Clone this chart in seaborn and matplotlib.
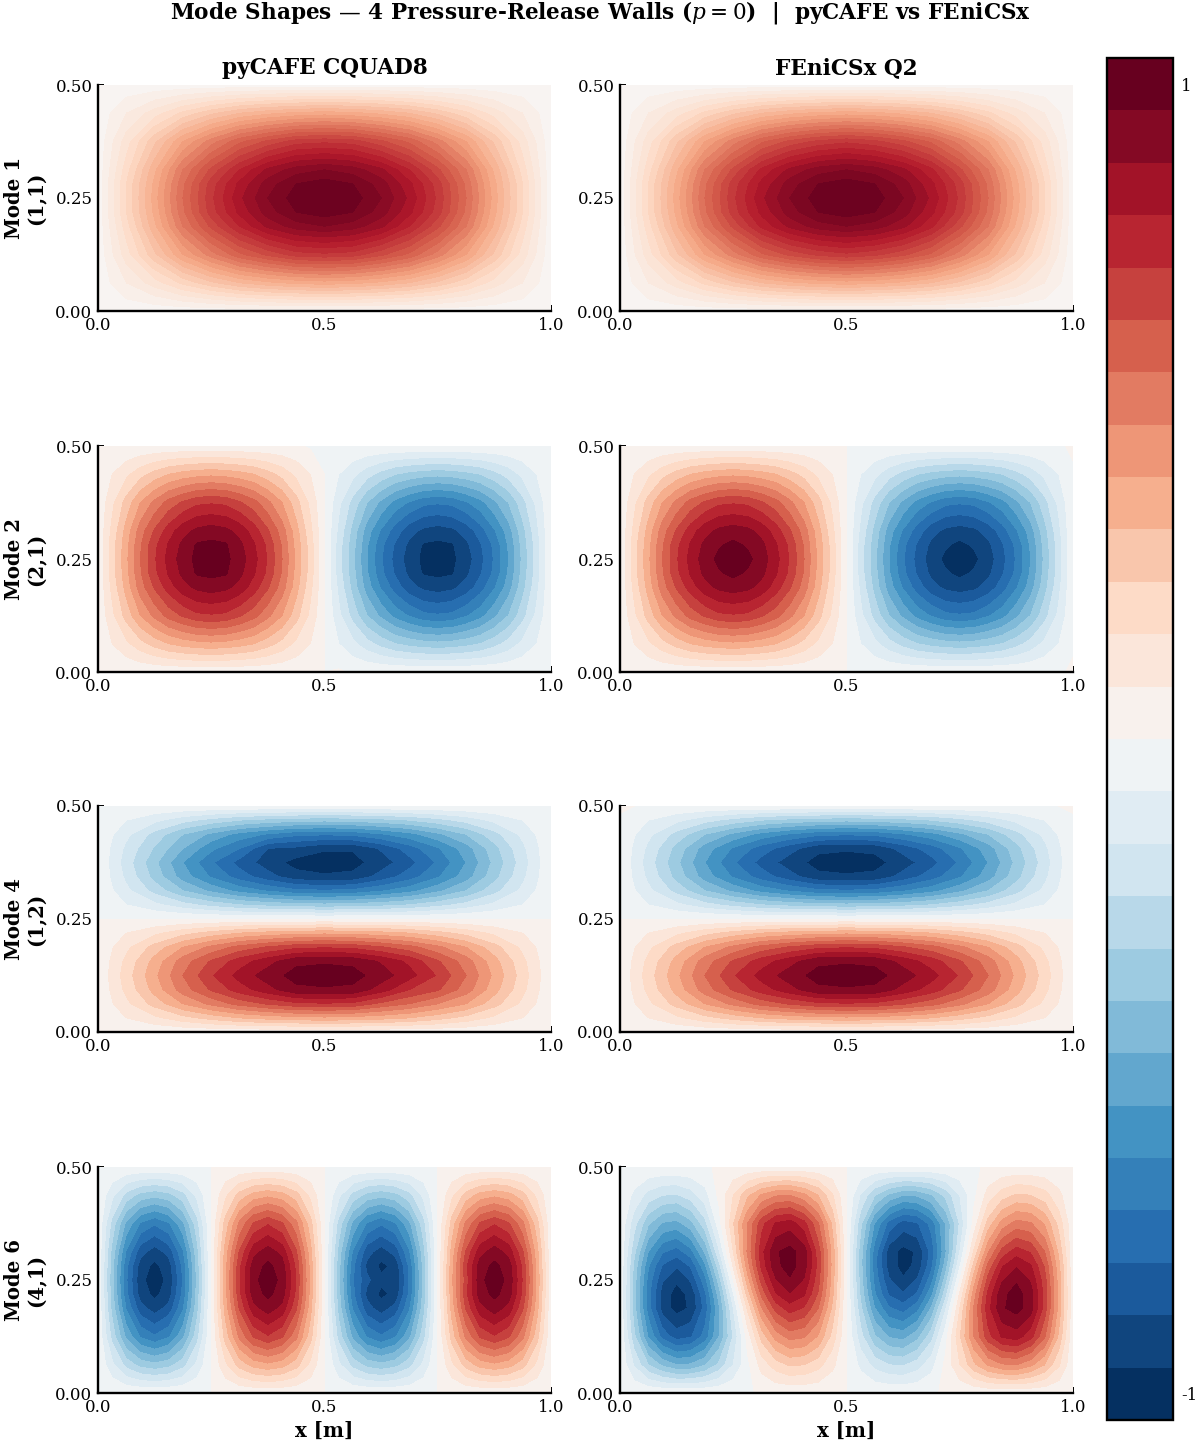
import numpy as np
import matplotlib
matplotlib.use("Agg")
import matplotlib.pyplot as plt
import seaborn as sns

# pressure, in hundredths of the peak; first row is y=0
mode1_pycafe = [
    [1]*17,
    [1,8,14,21,27,32,35,37,38,37,35,32,27,21,14,8,1],
    [1,14,27,40,50,59,65,70,71,70,65,59,50,40,27,14,1],
    [1,18,35,52,65,76,85,90,92,90,85,76,65,52,35,18,1],
    [1,20,37,55,70,81,90,96,98,96,90,81,70,55,37,20,1],
    [1,20,38,56,71,83,92,98,100,98,92,83,71,56,38,20,1],
    [1,20,37,55,70,81,90,96,98,96,90,81,70,55,37,20,1],
    [1,18,35,52,65,76,85,90,92,90,85,76,65,52,35,18,1],
    [1,14,27,40,50,59,65,70,71,70,65,59,50,40,27,14,1],
    [1,8,14,21,27,32,35,37,38,37,35,32,27,21,14,8,1],
    [1]*17,
]
mode1_fenics = [
    [1]*17,
    [1,8,14,21,27,32,35,37,38,37,35,32,27,21,14,8,1],
    [1,14,27,40,50,59,65,69,71,69,65,59,50,40,27,14,1],
    [1,18,35,52,65,77,85,90,92,90,85,77,65,52,35,18,1],
    [1,20,37,55,70,81,90,96,98,96,90,81,70,55,37,20,1],
    [1,20,38,56,71,83,92,98,100,98,92,83,71,56,38,20,1],
    [1,20,37,55,70,81,90,96,98,96,90,81,70,55,37,20,1],
    [1,18,35,52,65,77,85,90,92,90,85,77,65,52,35,18,1],
    [1,14,27,40,50,59,65,69,71,69,65,59,50,40,27,14,1],
    [1,8,14,21,27,32,35,37,38,37,35,32,27,21,14,8,1],
    [1]*17,
]
mode2_pycafe = [
    [1]*16 + [0, 1] + [-1]*15,
    [1,8,14,21,27,32,35,37,38,37,35,32,27,21,14,8,0,-8,-14,-21,-27,-32,-35,-37,-38,-37,-35,-32,-27,-21,-14,-8,-1],
    [1,14,27,40,50,59,65,70,71,70,65,59,50,40,27,14,0,-14,-27,-40,-50,-59,-65,-70,-71,-70,-65,-59,-50,-40,-27,-14,-1],
    [1,18,35,52,65,76,85,90,92,90,85,76,65,52,35,18,0,-18,-35,-52,-65,-76,-85,-90,-92,-90,-85,-76,-65,-52,-35,-18,-1],
    [1,20,37,55,70,81,90,97,98,97,90,81,70,55,37,20,0,-20,-37,-55,-70,-81,-90,-97,-98,-97,-90,-81,-70,-55,-37,-20,-1],
    [1,20,38,56,71,83,92,98,100,98,92,83,71,56,38,20,0,-20,-38,-56,-71,-83,-92,-98,-100,-98,-92,-83,-71,-56,-38,-20,-1],
    [1,20,37,55,70,81,90,97,98,97,90,81,70,55,37,20,0,-20,-37,-55,-70,-81,-90,-97,-98,-97,-90,-81,-70,-55,-37,-20,-1],
    [1,18,35,52,65,76,85,90,92,90,85,76,65,52,35,18,0,-18,-35,-52,-65,-76,-85,-90,-92,-90,-85,-76,-65,-52,-35,-18,-1],
    [1,14,27,40,50,59,65,70,71,70,65,59,50,40,27,14,0,-14,-27,-40,-50,-59,-65,-70,-71,-70,-65,-59,-50,-40,-27,-14,-1],
    [1,8,14,21,27,32,35,37,38,37,35,32,27,21,14,8,0,-8,-14,-21,-27,-32,-35,-37,-38,-37,-35,-32,-27,-21,-14,-8,-1],
    [1]*15 + [-1, 0] + [-1]*16,
]
mode2_fenics = [
    [1]*16 + [0] + [-1]*15 + [1],
    [1,8,14,21,27,32,35,37,38,37,35,32,27,21,14,8,0,-8,-14,-21,-27,-32,-35,-37,-38,-37,-35,-32,-27,-21,-14,-8,-1],
    [1,14,27,40,50,59,65,70,71,70,65,59,50,40,27,14,0,-14,-27,-40,-50,-59,-65,-70,-71,-70,-65,-59,-50,-40,-27,-14,-1],
    [1,18,35,52,65,76,85,90,92,90,85,76,65,52,35,18,0,-18,-35,-52,-65,-76,-85,-90,-92,-90,-85,-76,-65,-52,-35,-18,-1],
    [1,20,37,55,70,81,90,95,98,95,90,81,70,55,37,20,0,-20,-37,-55,-70,-81,-90,-95,-98,-95,-90,-81,-70,-55,-37,-20,-1],
    [1,20,38,56,71,83,92,98,100,98,92,83,71,56,38,20,0,-20,-38,-56,-71,-83,-92,-98,-100,-98,-92,-83,-71,-56,-38,-20,-1],
    [1,20,37,55,70,81,90,95,98,95,90,81,70,55,37,20,0,-20,-37,-55,-70,-81,-90,-95,-98,-95,-90,-81,-70,-55,-37,-20,-1],
    [1,18,35,52,65,76,85,90,92,90,85,76,65,52,35,18,0,-18,-35,-52,-65,-76,-85,-90,-92,-90,-85,-76,-65,-52,-35,-18,-1],
    [1,14,27,40,50,59,65,70,71,70,65,59,50,40,27,14,0,-14,-27,-40,-50,-59,-65,-70,-71,-70,-65,-59,-50,-40,-27,-14,-1],
    [1,8,14,21,27,32,35,37,38,37,35,32,27,21,14,8,0,-8,-14,-21,-27,-32,-35,-37,-38,-37,-35,-32,-27,-21,-14,-8,-1],
    [1]*16 + [0] + [-1]*15 + [1],
]
mode4_pycafe = [
    [1]*17,
    [1,8,14,21,27,32,35,37,38,37,35,32,27,21,14,8,1],
    [1,14,27,40,50,59,65,70,71,70,62,56,48,40,27,14,1],
    [1,18,35,52,65,76,85,94,95,94,84,72,65,52,35,18,1],
    [1,20,38,56,71,83,92,99,100,99,92,83,71,56,38,20,1],
    [1,18,35,52,65,76,85,94,95,94,87,78,65,52,35,18,1],
    [1,14,27,40,50,59,65,70,71,70,65,59,50,40,27,14,1],
    [1,8,14,21,27,32,35,37,38,37,35,32,27,21,14,8,1],
    [0]*17,
    [-1,-8,-14,-21,-27,-32,-35,-37,-38,-37,-35,-32,-27,-21,-14,-8,-1],
    [-1,-14,-27,-40,-50,-59,-65,-70,-71,-70,-65,-59,-50,-40,-27,-14,-1],
    [-1,-18,-35,-52,-65,-76,-85,-93,-95,-94,-85,-76,-65,-52,-35,-18,-1],
    [-1,-20,-38,-56,-71,-83,-92,-99,-100,-99,-92,-83,-71,-56,-38,-20,-1],
    [-1,-18,-33,-48,-62,-72,-88,-90,-95,-95,-87,-76,-65,-52,-35,-18,-1],
    [-1,-14,-27,-40,-50,-59,-65,-70,-71,-70,-65,-59,-50,-40,-27,-14,-1],
    [-1,-8,-14,-21,-27,-32,-35,-37,-38,-37,-35,-32,-27,-21,-14,-8,-1],
    [-1]*17,
]
mode4_fenics = [
    [1]*17,
    [1,8,14,21,27,32,35,37,38,37,35,32,27,21,14,8,1],
    [1,14,27,40,50,59,65,70,71,70,65,59,50,40,27,14,1],
    [1,18,35,52,65,76,85,94,95,94,85,76,65,52,35,18,1],
    [1,20,38,56,71,83,92,99,100,99,92,83,71,56,38,20,1],
    [1,18,35,52,65,76,85,94,95,94,85,76,65,52,35,18,1],
    [1,14,27,40,50,59,65,70,71,70,65,59,50,40,27,14,1],
    [1,8,14,21,27,32,35,37,38,37,35,32,27,21,14,8,1],
    [0]*17,
    [-1,-8,-14,-21,-27,-32,-35,-37,-38,-37,-35,-32,-27,-21,-14,-8,-1],
    [-1,-14,-27,-40,-50,-59,-65,-70,-71,-70,-65,-59,-50,-40,-27,-14,-1],
    [-1,-18,-35,-52,-65,-76,-85,-94,-95,-94,-85,-76,-65,-52,-35,-18,-1],
    [-1,-20,-38,-56,-71,-83,-92,-99,-100,-99,-92,-83,-71,-56,-38,-20,-1],
    [-1,-18,-35,-52,-65,-76,-85,-94,-95,-94,-85,-76,-65,-52,-35,-18,-1],
    [-1,-14,-27,-40,-50,-59,-65,-70,-71,-70,-65,-59,-50,-40,-27,-14,-1],
    [-1,-8,-14,-21,-27,-32,-35,-37,-38,-37,-35,-32,-27,-21,-14,-8,-1],
    [1] + [-1]*15 + [1],
]
mode6_pycafe = [
    [-1,-1,-1,-1,-1,-1,-1,-1,0,1,1,1,1,1,1,1,0,-1,-1,-1,-1,-1,-1,-1,0,1,1,1,1,1,1,1,1],
    [-1,-14,-27,-35,-38,-35,-27,-14,0,14,27,35,38,35,27,14,0,-14,-27,-35,-38,-35,-27,-14,0,14,27,35,38,35,27,14,1],
    [-1,-27,-50,-65,-71,-65,-50,-27,0,27,50,65,71,65,50,27,0,-27,-50,-65,-71,-65,-50,-27,0,27,50,65,71,65,50,27,1],
    [-1,-35,-65,-85,-92,-85,-65,-35,0,35,65,85,92,85,65,35,0,-35,-65,-85,-92,-85,-65,-35,0,35,65,85,92,85,65,35,1],
    [-1,-37,-70,-92,-98,-92,-70,-37,0,37,70,92,98,92,70,37,0,-37,-70,-90,-98,-94,-70,-37,0,37,70,92,98,92,70,37,1],
    [-1,-38,-71,-94,-100,-94,-71,-38,0,38,71,94,100,94,71,38,0,-38,-71,-86,-94,-96,-71,-38,0,38,68,94,100,94,71,38,1],
    [-1,-37,-70,-92,-98,-92,-70,-37,0,37,70,92,98,92,70,37,0,-37,-70,-90,-98,-94,-70,-37,0,37,70,92,98,92,70,37,1],
    [-1,-35,-65,-85,-92,-85,-65,-35,0,35,65,85,92,85,65,35,0,-35,-65,-85,-92,-85,-65,-35,0,35,65,85,92,85,65,35,1],
    [-1,-27,-50,-65,-71,-65,-50,-27,0,27,50,65,71,65,50,27,0,-27,-50,-65,-71,-65,-50,-27,0,27,50,65,71,65,50,27,1],
    [-1,-14,-27,-35,-38,-35,-27,-14,0,14,27,35,38,35,27,14,0,-14,-27,-35,-38,-35,-27,-14,0,14,27,35,38,35,27,14,1],
    [-1,-1,-1,-1,-1,-1,-1,-1,0,1,1,1,1,1,1,1,0,-1,-1,-1,-1,-1,-1,-1,0,1,1,1,1,1,1,1,1],
]
mode6_fenics = [
    [-1,-1,-1,-1,-1,-1,-1,-1,-1,-1,1,1,1,1,1,1,0,-1,-1,-1,-1,-1,-1,1,1,1,1,1,1,1,1,1,1],
    [-1,-17,-32,-42,-48,-47,-41,-30,-16,-2,11,20,25,24,19,10,0,-10,-19,-24,-25,-20,-11,2,16,30,41,47,48,42,32,17,1],
    [-1,-30,-57,-75,-84,-81,-69,-48,-23,3,27,43,51,49,39,21,0,-21,-39,-49,-51,-43,-27,-3,23,48,69,81,84,75,57,30,1],
    [-1,-37,-68,-92,-99,-95,-77,-49,-16,17,47,67,76,71,56,30,0,-30,-56,-71,-76,-67,-47,-17,16,49,77,95,99,92,68,37,1],
    [-1,-37,-69,-92,-99,-94,-74,-44,-9,27,58,79,87,81,63,34,0,-34,-63,-81,-87,-79,-58,-27,9,44,74,94,99,92,69,37,1],
    [-1,-36,-67,-87,-95,-87,-67,-36,0,36,67,87,95,87,67,36,0,-36,-67,-87,-95,-87,-67,-36,0,36,67,87,95,87,67,36,1],
    [-1,-34,-63,-81,-87,-79,-58,-27,9,44,74,94,99,92,69,37,0,-37,-69,-92,-99,-94,-74,-44,-9,27,58,79,87,81,63,34,1],
    [-1,-30,-56,-71,-76,-67,-47,-17,16,49,77,95,99,92,68,37,0,-37,-68,-92,-99,-95,-77,-49,-16,17,47,67,76,71,56,30,1],
    [-1,-21,-39,-49,-51,-43,-27,-3,23,48,69,81,84,75,57,30,0,-30,-57,-75,-84,-81,-69,-48,-23,3,27,43,51,49,39,21,1],
    [-1,-10,-19,-24,-25,-20,-11,2,16,30,41,47,48,42,32,17,0,-17,-32,-42,-48,-47,-41,-30,-16,-2,11,20,25,24,19,10,1],
    [-1,-1,-1,-1,-1,-1,-1,1,1,1,1,1,1,1,1,1,0,-1,-1,-1,-1,-1,-1,-1,-1,-1,1,1,1,1,1,1,1],
]

# rows of the tables above: extra rows either side of mid height
y_rows = [0, 0.0625, 0.125, 0.1875, 0.21875, 0.25, 0.28125, 0.3125, 0.375, 0.4375, 0.5]

row_labels = ["Mode 1\n(1,1)", "Mode 2\n(2,1)", "Mode 4\n(1,2)", "Mode 6\n(4,1)"]
col_labels = ["pyCAFE CQUAD8", "FEniCSx Q2"]
panels = [[mode1_pycafe, mode1_fenics], [mode2_pycafe, mode2_fenics],
          [mode4_pycafe, mode4_fenics], [mode6_pycafe, mode6_fenics]]

sns.set_theme(style="white", rc={"axes.linewidth": 1.7})
plt.rcParams["font.family"] = "DejaVu Serif"
plt.rcParams["mathtext.fontset"] = "dejavuserif"

W, H = 1200, 1447
fig = plt.figure(figsize=(W / 100, H / 100), dpi=100)
cmap = sns.color_palette("RdBu_r", as_cmap=True)
levels_full = np.linspace(-1.04, 1.04, 27)
levels_pos = np.linspace(0, 1, 26)  # mode 1 never goes negative, so its bands are finer

col_x = [98, 620]
row_y = [85, 446, 806, 1167]

for r, top in enumerate(row_y):
    for c, left in enumerate(col_x):
        ax = fig.add_axes([left / W, 1 - (top + 226) / H, 453 / W, 226 / H])
        z = np.array(panels[r][c]) / 100
        x = np.linspace(0, 1, z.shape[1])
        y = y_rows if z.shape[0] == len(y_rows) else np.linspace(0, 0.5, z.shape[0])
        levels = levels_pos if r == 0 else levels_full
        cf = ax.contourf(x, y, z, levels=levels, cmap=cmap, vmin=-1, vmax=1)
        ax.set_xlim(0, 1)
        ax.set_ylim(0, 0.5)
        ax.set_xticks([0, 0.5, 1])
        ax.set_xticklabels(["0.0", "0.5", "1.0"])
        ax.set_yticks([0, 0.25, 0.5])
        ax.set_yticklabels(["0.00", "0.25", "0.50"])
        ax.tick_params(direction="in", length=4, width=1.4, labelsize=12,
                       labelcolor="black", color="black", left=True, bottom=True, pad=4)
        sns.despine(ax=ax)
        for s in ["left", "bottom"]:
            ax.spines[s].set_color("black")
        if r == 0:
            ax.set_title(col_labels[c], fontsize=15.6, fontweight="bold", color="black", pad=8)
        if c == 0:
            ax.set_ylabel(row_labels[r], fontsize=14.2, fontweight="bold", color="black")
            ax.yaxis.set_label_coords(-0.113, 0.5)
        if r == 3:
            ax.set_xlabel("x [m]", fontsize=14.2, fontweight="bold", color="black", labelpad=4)

cax = fig.add_axes([1107 / W, 1 - 1420 / H, 66 / W, 1362 / H])
cb = fig.colorbar(cf, cax=cax, ticks=[-1, 1])
cb.ax.set_yticklabels(["-1", "1"])
cb.ax.tick_params(direction="in", length=4.3, width=1.4, labelsize=12, labelcolor="black",
                  color="black", right=True, pad=6)
cb.outline.set_edgecolor("black")
cb.outline.set_linewidth(1.7)

fig.text(0.5, 1 - 13 / H, "Mode Shapes — 4 Pressure-Release Walls ($p = 0$)  |  pyCAFE vs FEniCSx",
         ha="center", va="center", fontsize=15.6, fontweight="bold", color="black")

fig.savefig("out.png", dpi=100)
